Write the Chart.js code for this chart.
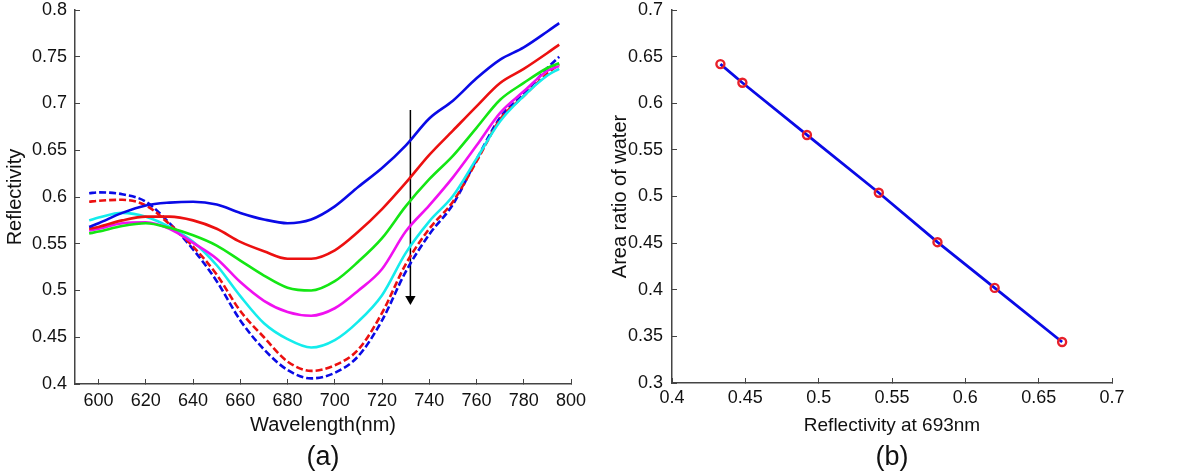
<!DOCTYPE html>
<html lang="en">
<head>
<meta charset="utf-8">
<title>Reflectivity spectra</title>
<script src="https://cdn.jsdelivr.net/npm/chart.js@4.4.1/dist/chart.umd.min.js"></script>
<style>
  body { margin: 0; background: #fff; }
  #wrap { position: relative; width: 1200px; height: 474px; }
  canvas { position: absolute; top: 0; }
</style>
</head>
<body>
<div id="wrap">
  <canvas id="specChart" width="600" height="474" style="left:0"></canvas>
  <canvas id="ratioChart" width="600" height="474" style="left:600px"></canvas>
</div>
<script>
// (a) spectra
var wavelength = [596, 600, 610, 620, 630, 640, 650, 660, 670, 680, 690, 700, 710, 720, 730, 740, 750, 760, 770, 780, 790, 795];
var blueSolid  = [0.568, 0.572, 0.583, 0.591, 0.594, 0.595, 0.592, 0.583, 0.576, 0.572, 0.576, 0.590, 0.611, 0.631, 0.655, 0.684, 0.703, 0.727, 0.747, 0.760, 0.777, 0.786];
var redSolid   = [0.566, 0.568, 0.575, 0.579, 0.579, 0.575, 0.566, 0.552, 0.542, 0.534, 0.534, 0.543, 0.563, 0.587, 0.615, 0.645, 0.671, 0.697, 0.722, 0.737, 0.754, 0.763];
var greenSolid = [0.561, 0.563, 0.569, 0.572, 0.567, 0.559, 0.548, 0.532, 0.516, 0.503, 0.500, 0.510, 0.531, 0.556, 0.590, 0.619, 0.644, 0.674, 0.704, 0.722, 0.738, 0.743];
var magSolid   = [0.564, 0.566, 0.572, 0.573, 0.566, 0.551, 0.534, 0.509, 0.489, 0.477, 0.473, 0.481, 0.500, 0.523, 0.563, 0.591, 0.621, 0.655, 0.690, 0.713, 0.735, 0.740];
var cyanSolid  = [0.575, 0.578, 0.583, 0.579, 0.568, 0.552, 0.527, 0.494, 0.465, 0.448, 0.439, 0.447, 0.467, 0.495, 0.540, 0.574, 0.601, 0.641, 0.681, 0.708, 0.730, 0.737];
var redDashed  = [0.595, 0.596, 0.597, 0.591, 0.571, 0.547, 0.517, 0.478, 0.450, 0.424, 0.414, 0.420, 0.437, 0.476, 0.528, 0.566, 0.595, 0.638, 0.683, 0.708, 0.732, 0.742];
var blueDashed = [0.604, 0.605, 0.603, 0.595, 0.572, 0.544, 0.510, 0.468, 0.437, 0.415, 0.406, 0.412, 0.430, 0.468, 0.520, 0.560, 0.592, 0.640, 0.685, 0.710, 0.738, 0.750];
var arrowX = [732, 732];
var arrowY = [0.693, 0.491];
var specXTicks = [600, 620, 640, 660, 680, 700, 720, 740, 760, 780, 800];
var specYTicks = [0.4, 0.45, 0.5, 0.55, 0.6, 0.65, 0.7, 0.75, 0.8];

// (b) area ratio vs reflectivity
var reflAt693 = [0.433, 0.448, 0.492, 0.541, 0.581, 0.620, 0.666];
var areaRatio = [0.642, 0.622, 0.566, 0.504, 0.451, 0.402, 0.344];
var ratioXTicks = [0.4, 0.45, 0.5, 0.55, 0.6, 0.65, 0.7];
var ratioYTicks = [0.3, 0.35, 0.4, 0.45, 0.5, 0.55, 0.6, 0.65, 0.7];

var FONT = "'Liberation Sans', Arial, sans-serif";
var INK = '#111';
var AXIS = '#444';

function pts(xs, ys) {
  return xs.map(function (x, i) { return { x: x, y: ys[i] }; });
}
function fmt(v) { return String(+v.toFixed(2)); }

function spec(ys, color, dashed) {
  return {
    data: pts(wavelength, ys),
    borderColor: color,
    borderWidth: 2.6,
    borderDash: dashed ? [7, 3] : [],
    pointRadius: 0,
    cubicInterpolationMode: 'monotone',
    fill: false
  };
}

function axis(min, max, ticks, title, opts) {
  return {
    type: 'linear',
    min: min,
    max: max,
    afterBuildTicks: function (s) { s.ticks = ticks.map(function (v) { return { value: v }; }); },
    afterFit: opts.fit,
    border: { display: true, color: AXIS, width: 1.5 },
    grid: { display: true, drawOnChartArea: false, drawTicks: true, tickLength: -5, tickColor: AXIS, tickWidth: 1 },
    ticks: { color: INK, padding: opts.pad, font: { family: FONT, size: 18, lineHeight: 1 }, callback: fmt },
    title: { display: true, text: title, color: INK, padding: opts.titlePad, font: { family: FONT, size: opts.titleSize || 20 } }
  };
}

// y axis: fixed width, and keep the top edge of the plot at 10px
function yFit(w) {
  return function (s) { s.width = w; s.paddingTop = 10; s.paddingBottom = 9; };
}

// panel label under the plot, centred on the plot area
function panelLabel(text) {
  return { display: true, text: text, position: 'bottom', fullSize: false, color: INK, padding: 0, font: { family: FONT, size: 27, weight: 'normal' } };
}

Chart.defaults.animation = false;

new Chart(document.getElementById('specChart'), {
  type: 'line',
  data: {
    datasets: [
      spec(blueSolid, '#0a0ae6', false),
      spec(redSolid, '#ec1010', false),
      spec(greenSolid, '#14e614', false),
      spec(magSolid, '#f010f0', false),
      spec(cyanSolid, '#14ecec', false),
      spec(redDashed, '#ec1010', true),
      spec(blueDashed, '#0a0ae6', true),
      {
        data: pts(arrowX, arrowY),
        borderColor: '#000',
        borderWidth: 1.5,
        pointStyle: 'triangle',
        pointRadius: [0, 6],
        pointRotation: 180,
        pointBackgroundColor: '#000',
        pointBorderColor: '#000',
        pointBorderWidth: 0
      }
    ]
  },
  options: {
    responsive: false,
    layout: { padding: { top: 0, left: 0, right: 29, bottom: 0 } },
    plugins: {
      legend: { display: false },
      tooltip: { enabled: false },
      title: panelLabel('(a)')
    },
    scales: {
      x: axis(590, 800, specXTicks, 'Wavelength(nm)', { pad: 13, titlePad: { top: 0, bottom: 4 }, fit: function (s) { s.height = 57.6; } }),
      y: axis(0.4, 0.8, specYTicks, 'Reflectivity', { pad: 13, titlePad: { top: 3, bottom: 0 }, fit: yFit(75) })
    }
  }
});

new Chart(document.getElementById('ratioChart'), {
  type: 'line',
  data: {
    datasets: [{
      data: pts(reflAt693, areaRatio),
      borderColor: '#0a0ae6',
      borderWidth: 2.8,
      pointRadius: 4,
      pointBorderWidth: 2.4,
      pointBorderColor: '#e8202a',
      pointBackgroundColor: 'rgba(0,0,0,0)',
      tension: 0,
      fill: false
    }]
  },
  options: {
    responsive: false,
    layout: { padding: { top: 0, left: 0, right: 88, bottom: 0 } },
    plugins: {
      legend: { display: false },
      tooltip: { enabled: false },
      title: panelLabel('(b)')
    },
    scales: {
      x: axis(0.4, 0.7, ratioXTicks, 'Reflectivity at 693nm', { pad: 11, titlePad: { top: 0, bottom: 4 }, titleSize: 19, fit: function (s) { s.height = 58.6; } }),
      y: axis(0.3, 0.7, ratioYTicks, 'Area ratio of water', { pad: 14, titlePad: { top: 8, bottom: 0 }, fit: yFit(72) })
    }
  }
});
</script>
</body>
</html>
